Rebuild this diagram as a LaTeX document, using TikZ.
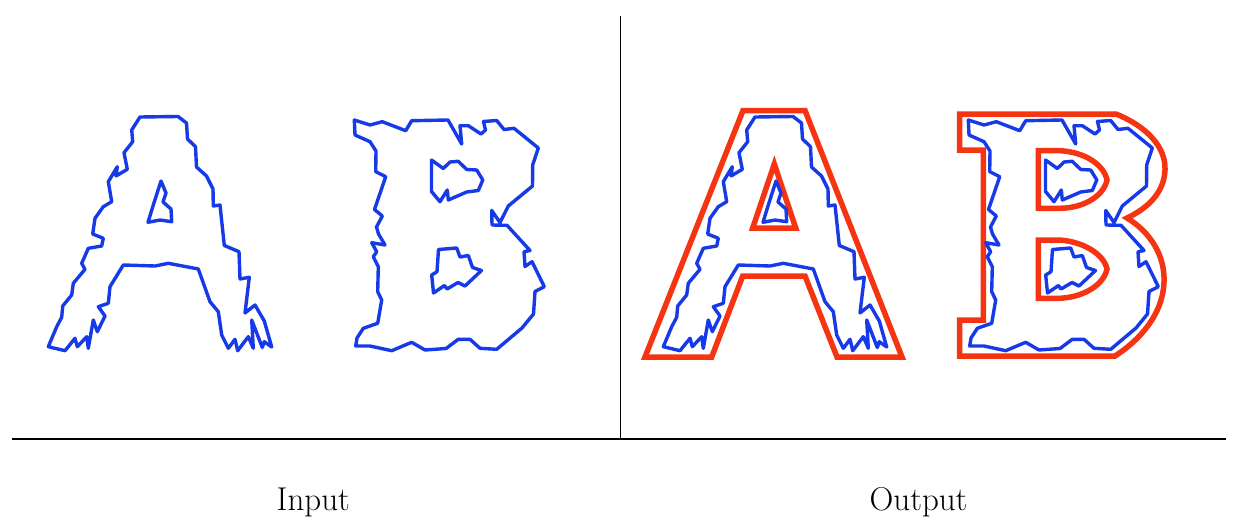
\documentclass[tikz,border=0pt]{standalone}
\usepackage{tikz}
\definecolor{glyphblue}{RGB}{22,58,232}
\definecolor{glyphred}{RGB}{245,52,18}
\newcommand\myApath{(140,117) -- (178,116.5) -- (186.5,123) -- (187.5,139) -- (195.5,146.7) -- (196.5,167) -- (206.5,176) -- (213,189) -- (213.3,206) -- (220,205) -- (224.3,245.5) -- (239,251.7) -- (240,279) -- (249.3,277.3) -- (245,313) -- (255,305) -- (264.3,321) -- (271.7,347) -- (264.3,341.7) -- (262.3,347.5) -- (251.7,320) -- (253.3,348.3) -- (248.3,336.7) -- (237.7,350.7) -- (235,339.3) -- (228.3,348.3) -- (221.7,335) -- (218.3,311.7) -- (210,301.7) -- (198.3,269) -- (168.3,263.3) -- (155,266) -- (123.3,265) -- (110,286.7) -- (108.3,303.3) -- (98.3,306.7) -- (105,316) -- (97.3,331.7) -- (93.3,320) -- (88.3,348.3) -- (86.7,336.7) -- (77.3,346.7) -- (75,338.3) -- (65,350.7) -- (48.3,346.7) -- (56.7,326.7) -- (61.7,317.3) -- (62.7,306) -- (71.7,295) -- (73.3,283.3) -- (85,269.3) -- (81.7,263.3) -- (88.3,248.3) -- (101.7,246) -- (103.3,238.3) -- (92.7,234) -- (95,218.3) -- (103.3,206.7) -- (111.7,201.7) -- (108.3,181.7) -- (117.3,166.7) -- (116,176) -- (127.3,169.3) -- (124,152.7) -- (132.7,141.7) -- (131.7,130) -- cycle
(161,181) -- (166,193) -- (163,202) -- (171,209) -- (171.7,221.7) -- (160,220) -- (148,222.3) -- (153.3,205) -- cycle}
\newcommand\myBpath{(354.3,120) -- (370,125) -- (382.3,121.7) -- (405.7,130.7) -- (411.7,120.7) -- (448,120) -- (461.7,144) -- (460,125.7) -- (468.3,125.7) -- (481,134) -- (485.5,130) -- (483.5,121.5) -- (496.7,120.5) -- (504,129.5) -- (514,128.3) -- (538.3,148) -- (532.7,165) -- (532.5,186) -- (508.3,206) -- (500,222.5) -- (491.7,210.5) -- (492,225) -- (507,225.3) -- (530,250.5) -- (524,251.7) -- (525,266.5) -- (532,261.7) -- (544.3,286.7) -- (535,291.5) -- (533.5,314) -- (522,328) -- (496.7,349.3) -- (480,348.3) -- (470,339.3) -- (458.3,339.3) -- (446,348.5) -- (425,350) -- (411.7,342.3) -- (391.7,350.7) -- (370,346) -- (355.7,346) -- (357,338) -- (363.3,328.3) -- (377.7,323.3) -- (381.7,300) -- (377.7,291.7) -- (378.3,266.7) -- (373.3,256.7) -- (376.7,251.7) -- (371.7,242.7) -- (385,245) -- (378.5,234) -- (376.5,227) -- (382.3,216) -- (374.5,209.5) -- (385.7,176.7) -- (375.7,171.7) -- (376,151) -- (370,141.7) -- (355,135) -- cycle
(431.5,160) -- (443.3,168.5) -- (450,162) -- (458.3,161.3) -- (466.7,169.5) -- (476.7,170) -- (482.8,180) -- (478.3,190.5) -- (466.7,192) -- (448.3,200) -- (447.3,190) -- (440,201.7) -- (431.5,191.5) -- cycle
(438.5,249.5) -- (456.7,248) -- (460,257) -- (468.3,255.5) -- (472.5,267.5) -- (481.5,270.5) -- (465,286) -- (458,282.5) -- (447,289) -- (444.5,285.5) -- (433.5,293) -- (431.7,275) -- (437,271.7) -- cycle}
\tikzset{
  blueglyph/.style={draw=glyphblue, line width=3.4pt, line join=round},
  redglyph/.style={draw=glyphred, line width=5.5pt, line join=miter},
  rule/.style={draw=black, line width=1pt},
  caption/.style={font=\fontsize{33}{38}\selectfont, inner sep=0pt, anchor=base west}
}
\begin{document}
\begin{tikzpicture}[x=1pt,y=-1pt]
\useasboundingbox (0,0) rectangle (1239,527);
% dividers
\coordinate (vtop) at (620,16);
\coordinate (vbot) at (620,439);
\coordinate (hl) at (12,439);
\coordinate (hr) at (1226,439);
\draw[rule] (vtop) -- (vbot);
\draw[rule, line width=1.7pt] (hl) -- (hr);
% input glyphs
\draw[blueglyph] \myApath;
\draw[blueglyph] \myBpath;
% output: red outlines
\draw[redglyph] (645,357) -- (743,110.5) -- (805,110.5) -- (902,357) -- (837,357) -- (805,276) -- (742.7,276) -- (711.7,357) -- cycle
  (774.3,164) -- (752.7,228) -- (795.7,228) -- cycle;
\draw[redglyph] (959.5,114) -- (1116,114) .. controls (1148,127) and (1166,148) .. (1165,170) .. controls (1164,194) and (1146,209) .. (1127,218) .. controls (1150,232) and (1165,255) .. (1164,282) .. controls (1163,314) and (1140,340) .. (1115,356) -- (959.5,356) -- (959.5,320) -- (983.3,320) -- (983.3,150) -- (959.5,150) -- cycle
  (1038.3,150.7) -- (1060,150.7) .. controls (1085,152) and (1104,165) .. (1107,180) .. controls (1104,195) and (1085,208) .. (1060,208.3) -- (1038.3,208.3) -- cycle
  (1038.3,240) -- (1060,240) .. controls (1085,242) and (1104,255) .. (1107,269) .. controls (1104,284) and (1085,297) .. (1060,298.3) -- (1038.3,298.3) -- cycle;
% output: blue glyphs
\draw[blueglyph, shift={(615,0)}] \myApath;
\draw[blueglyph, shift={(614,0)}] \myBpath;
% captions
\node[caption] (lblin) at (276.5,510) {Input};
\node[caption] (lblout) at (869.5,510) {Output};
\end{tikzpicture}
\end{document}
